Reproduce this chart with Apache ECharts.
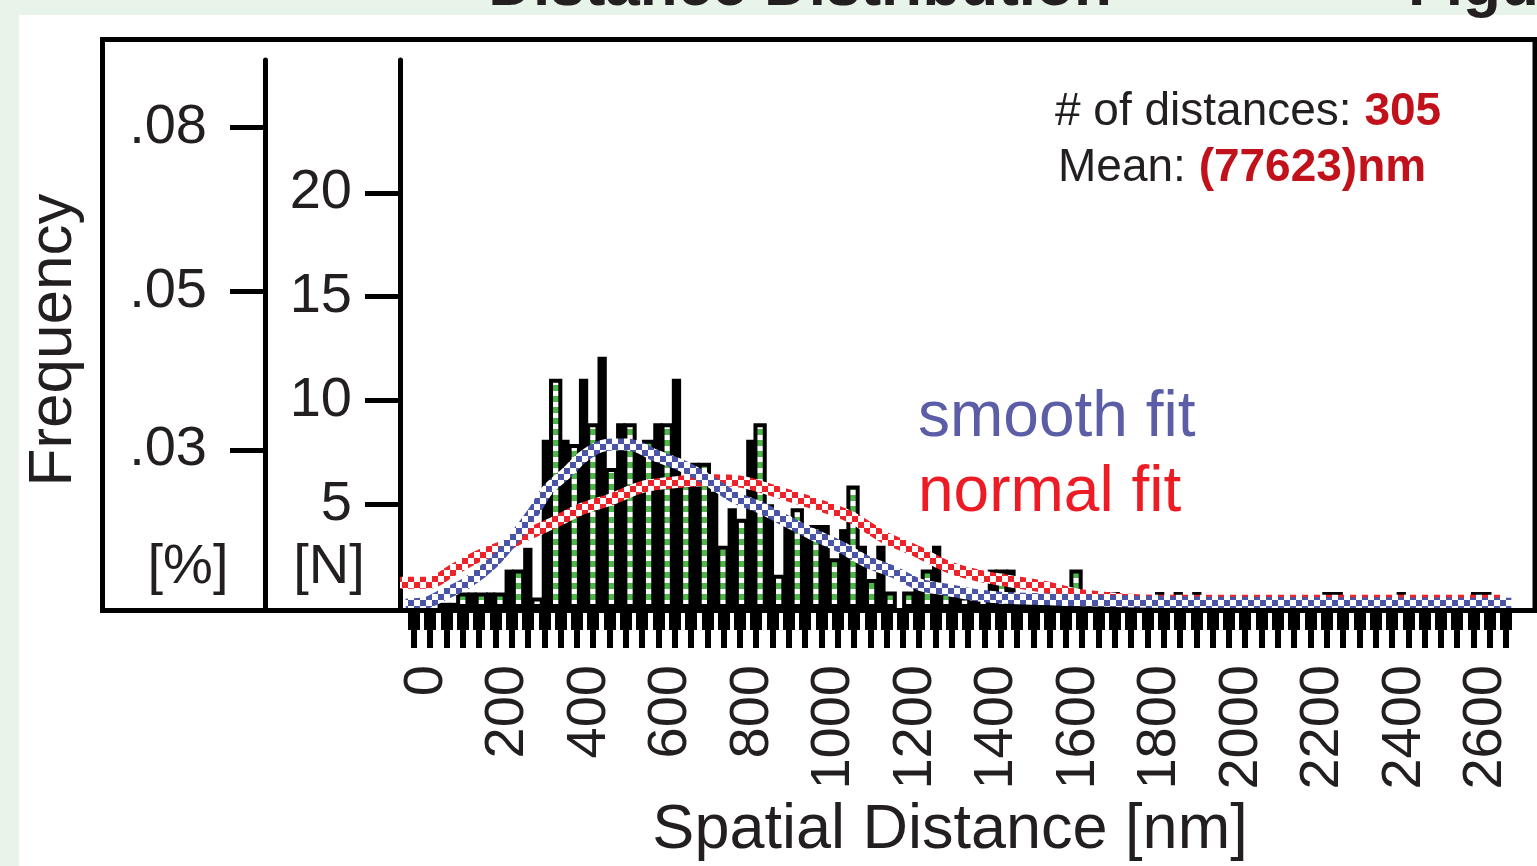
<!DOCTYPE html>
<html>
<head>
<meta charset="utf-8">
<style>
  html, body { margin: 0; padding: 0; background: #e8f4ea; }
  #chart { width: 1537px; height: 866px; }
</style>
</head>
<body>
<div id="chart"></div>
<script src="https://cdn.jsdelivr.net/npm/echarts@6.0.0/dist/echarts.min.js"></script>
<script>
  // histogram bins, in nm
  const binStart = 33
  const binWidth = 22.8
  // counts per bin (N)
  const counts = [
    0.25, 0.25, 0.75, 0.75, 0.75, 0.75, 0.75, 1.85, 1.85, 2.9,
    0.5, 8.1, 11.05, 8.1, 7.9, 11.05, 8.9, 12.1, 6.75, 8.9,
    8.9, 7.6, 8.1, 8.9, 8.9, 11.05, 6.0, 7.0, 7.0, 5.6,
    3.0, 4.8, 4.3, 8.1, 8.9, 5.0, 1.6, 4.0, 4.8, 3.5,
    4.0, 4.0, 2.4, 3.8, 5.9, 3.0, 1.4, 3.0, 0.8, 0,
    0.8, 1.0, 1.85, 3.0, 0.8, 0.8, 0.56, 0.56, 0.56, 1.85,
    1.85, 1.85, 0.45, 0.25, 0.25, 0.25, 0.2, 0.2, 1.85, 0.2,
    0.2, 0.2, 0.77, 0.2, 0.2, 0.2, 0.2, 0.77, 0.2, 0.77,
    0.2, 0.77, 0.2, 0.2, 0.2, 0.2, 0.2, 0.2, 0.2, 0.2,
    0.2, 0.2, 0.2, 0.2, 0.2, 0.77, 0.77, 0.2, 0.2, 0.2,
    0.2, 0.2, 0.2, 0.77, 0.2, 0.2, 0.2, 0.2, 0.2, 0.2,
    0.2, 0.77, 0.77, 0.2, 0.2
  ]
  // smooth fit (blue)
  const smoothX = [-50, 2, 42, 101, 164, 213, 263, 299, 346, 383, 427, 459, 493, 525, 557, 623, 690, 753, 820, 886, 950, 1016, 1082, 1146, 1212, 1278, 1342, 1409, 1556, 1899, 2663]
  const smoothY = [0.16, 0.26, 0.64, 1.22, 2.19, 3.3, 4.6, 5.7, 6.53, 7.25, 7.78, 7.88, 7.88, 7.73, 7.4, 6.9, 6.19, 5.37, 4.84, 4.17, 3.54, 2.96, 2.23, 1.75, 1.12, 0.88, 0.64, 0.5, 0.4, 0.26, 0.2]
  // normal fit (red)
  const normalX = [-64, 10, 59, 125, 189, 248, 312, 378, 452, 533, 631, 700, 771, 876, 942, 1040, 1121, 1205, 1286, 1367, 1514, 1617, 1801, 2650]
  const normalY = [1.22, 1.22, 1.75, 2.47, 2.96, 3.54, 4.1, 4.74, 5.22, 5.85, 6.09, 6.15, 6.09, 5.5, 5.1, 4.4, 3.44, 2.72, 1.94, 1.51, 1.03, 0.59, 0.35, 0.35]
  // tick labels
  const xTicks = [0, 200, 400, 600, 800, 1000, 1200, 1400, 1600, 1800, 2000, 2200, 2400, 2600]
  const countTicks = [5, 10, 15, 20]
  const freqLabels = ['.03', '.05', '.08']
  const freqTickAt = [7.62, 15.24, 23.15] // where the frequency labels sit, in N units

  const xMin = -64
  const xMax = 2721
  const yMax = 26.4
  const gridLeft = 400
  const gridWidth = 1135
  const font = 'Liberation Sans, Arial, Helvetica, sans-serif'
  const ink = '#231f20'
  const outline = 4

  // bottom comb, one tooth every 40 nm
  const combTicks = []
  for (let v = -30; v <= 2650; v += 40) combTicks.push(v)

  function checker(color, cell) {
    const c = document.createElement('canvas')
    c.width = c.height = cell * 2
    const ctx = c.getContext('2d')
    ctx.fillStyle = '#fff'
    ctx.fillRect(0, 0, cell * 2, cell * 2)
    ctx.fillStyle = color
    ctx.fillRect(0, 0, cell, cell)
    ctx.fillRect(cell, cell, cell, cell)
    return c
  }
  function dots(color) {
    const c = document.createElement('canvas')
    c.width = 4
    c.height = 11
    const ctx = c.getContext('2d')
    ctx.fillStyle = '#fff'
    ctx.fillRect(0, 0, 4, 11)
    ctx.fillStyle = color
    ctx.fillRect(0, 0, 4, 6)
    return c
  }

  const barPx = binWidth * gridWidth / (xMax - xMin)
  const greenBars = []
  const blackBars = []
  counts.forEach((v, i) => {
    const item = [binStart + (i + 0.5) * binWidth, v]
    if (i % 2 === 0) greenBars.push(item)
    else blackBars.push(item)
  })
  const smoothData = smoothX.map((x, i) => [x, smoothY[i]])
  const normalData = normalX.map((x, i) => [x, normalY[i]])

  const chart = echarts.init(document.getElementById('chart'))
  chart.setOption({
    animation: false,
    backgroundColor: '#e8f4ea',
    grid: {left: gridLeft, right: 1537 - gridLeft - gridWidth, top: 60, bottom: 258},
    xAxis: [
      {
        type: 'value', min: xMin, max: xMax, position: 'bottom',
        axisLine: {show: false, onZero: false},
        splitLine: {show: false},
        axisTick: {show: true, customValues: combTicks, length: 40, lineStyle: {color: '#000', width: 6}},
        axisLabel: {
          customValues: xTicks, rotate: 90, margin: 57,
          fontSize: 56, fontFamily: font, color: ink,
          formatter: v => String(v)
        }
      },
      {
        type: 'value', min: xMin, max: xMax, position: 'bottom',
        axisLine: {show: false, onZero: false},
        splitLine: {show: false},
        axisTick: {show: true, customValues: combTicks, length: 22, lineStyle: {color: '#000', width: 12}},
        axisLabel: {show: false}
      }
    ],
    yAxis: [
      {
        type: 'value', min: 0, max: yMax, position: 'left', offset: 0,
        axisLine: {show: true, onZero: false, lineStyle: {color: '#000', width: 5}},
        axisTick: {show: true, customValues: countTicks, length: 35, lineStyle: {color: '#000', width: 5}},
        axisLabel: {customValues: countTicks, margin: 48, fontSize: 56, fontFamily: font, color: ink},
        splitLine: {show: false}
      },
      {
        type: 'value', min: 0, max: yMax, position: 'left', offset: 135,
        axisLine: {show: true, onZero: false, lineStyle: {color: '#000', width: 5}},
        axisTick: {show: true, customValues: freqTickAt, length: 35, lineStyle: {color: '#000', width: 5}},
        axisLabel: {
          customValues: freqTickAt, margin: 58, fontSize: 56, fontFamily: font, color: ink,
          formatter: v => freqLabels[freqTickAt.indexOf(v)]
        },
        splitLine: {show: false}
      }
    ],
    series: [
      {
        type: 'bar', xAxisIndex: 0, yAxisIndex: 0, barWidth: barPx, z: 2,
        itemStyle: {color: '#000'},
        data: blackBars
      },
      {
        // ECharts keeps the border inside the bar, so widen by the outline
        type: 'bar', xAxisIndex: 1, yAxisIndex: 0, barWidth: barPx + outline, z: 3,
        itemStyle: {color: {image: dots('#4db848'), repeat: 'repeat'}, borderColor: '#000', borderWidth: outline},
        data: greenBars
      },
      {
        type: 'line', xAxisIndex: 0, yAxisIndex: 0, z: 5, symbol: 'none', smooth: 0.3,
        lineStyle: {color: {image: checker('#ee2229', 6), repeat: 'repeat'}, width: 12},
        data: normalData
      },
      {
        type: 'line', xAxisIndex: 0, yAxisIndex: 0, z: 6, symbol: 'none', smooth: 0.3,
        lineStyle: {color: {image: checker('#4a55a7', 6), repeat: 'repeat'}, width: 12},
        data: smoothData
      }
    ],
    graphic: [
      {type: 'rect', z: -10, shape: {x: 19, y: 15, width: 1518, height: 851}, style: {fill: '#fff'}},
      {type: 'rect', z: 10, shape: {x: 102.5, y: 39.5, width: 1432.5, height: 571}, style: {fill: 'none', stroke: '#000', lineWidth: 5}},
      {type: 'text', z: 10, x: 800, y: -12, style: {text: 'Distance Distribution', font: 'bold 62px ' + font, fill: ink, align: 'center', verticalAlign: 'middle'}},
      {type: 'text', z: 10, x: 1408, y: -12, style: {text: 'Figure', font: 'bold 62px ' + font, fill: ink, align: 'left', verticalAlign: 'middle'}},
      {type: 'text', z: 10, x: 54, y: 340, rotation: Math.PI / 2, style: {text: 'Frequency', font: '62px ' + font, fill: ink, align: 'center', verticalAlign: 'middle'}},
      {type: 'text', z: 10, x: 188, y: 568, style: {text: '[%]', font: '56px ' + font, fill: ink, align: 'center', verticalAlign: 'middle'}},
      {type: 'text', z: 10, x: 329, y: 568, style: {text: '[N]', font: '56px ' + font, fill: ink, align: 'center', verticalAlign: 'middle'}},
      {type: 'text', z: 10, x: 950, y: 831, style: {text: 'Spatial Distance [nm]', font: '63px ' + font, fill: ink, align: 'center', verticalAlign: 'middle'}},
      {type: 'text', z: 10, x: 918, y: 418, style: {text: 'smooth fit', font: '64px ' + font, fill: '#5b5ea6', align: 'left', verticalAlign: 'middle'}},
      {type: 'text', z: 10, x: 918, y: 493, style: {text: 'normal fit', font: '64px ' + font, fill: '#ed1c24', align: 'left', verticalAlign: 'middle'}},
      {
        type: 'text', z: 10, x: 1055, y: 112,
        style: {
          text: '{a|# of distances: }{b|305}', verticalAlign: 'middle', align: 'left',
          rich: {
            a: {fontSize: 46, fontFamily: font, fill: ink, color: ink},
            b: {fontSize: 46, fontFamily: font, fontWeight: 'bold', fill: '#c1121c', color: '#c1121c'}
          }
        }
      },
      {
        type: 'text', z: 10, x: 1058, y: 168,
        style: {
          text: '{a|Mean: }{b|(77623)nm}', verticalAlign: 'middle', align: 'left',
          rich: {
            a: {fontSize: 46, fontFamily: font, fill: ink, color: ink},
            b: {fontSize: 46, fontFamily: font, fontWeight: 'bold', fill: '#c1121c', color: '#c1121c'}
          }
        }
      }
    ]
  })
</script>
</body>
</html>
